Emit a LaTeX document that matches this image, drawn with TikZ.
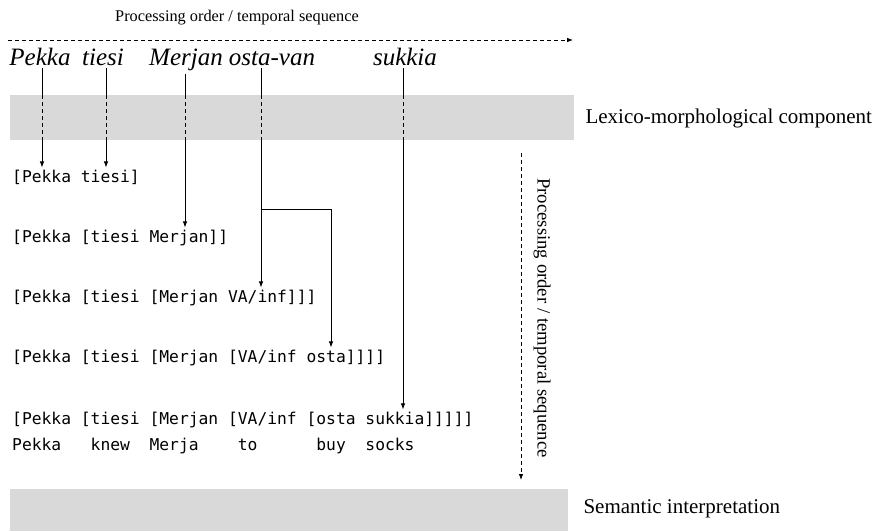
\documentclass[tikz,border=0pt]{standalone}
\usepackage{fontspec}
\setmainfont{Liberation Serif}
\setmonofont{DejaVu Sans Mono}
\usepackage{tikz}
\usetikzlibrary{arrows.meta}
\definecolor{bandgray}{HTML}{D9D9D9}
\tikzstyle{word} = [inner sep=3pt, anchor=base, font=\itshape\fontsize{25}{28}\selectfont]
\tikzstyle{struct} = [inner sep=2pt, anchor=base west, font=\ttfamily\fontsize{16.3}{19}\selectfont]
\tikzstyle{band} = [fill=bandgray, inner sep=0pt, anchor=north west]
\tikzstyle{stage} = [anchor=west, font=\fontsize{21}{24}\selectfont]
\tikzstyle{arrow} = [line width=0.8pt, -{Latex[length=6pt,width=4.5pt]}]
\tikzstyle{dasharrow} = [arrow, dash pattern=on 4pt off 3pt]

\begin{document}
\begin{tikzpicture}[x=1pt,y=-1pt]
\useasboundingbox (0,0) rectangle (876,531);

% time line on top
\node (title) at (237,18) {\fontsize{16.3}{19}\selectfont Processing order / temporal sequence};
\coordinate (timestart) at (8,40);
\coordinate (timeend) at (573,40);
\draw [dasharrow] (timestart) -- (timeend);

\node (pekka) [word] at (40,65) {Pekka};
\node (tiesi) [word] at (103,65) {tiesi};
\node (merjan) [word] at (186,65) {Merjan};
\node (ostavan) [word] at (272,65) {osta-van};
\node (sukkia) [word] at (405,65) {sukkia};

\node (lexband) [band, minimum width=564pt, minimum height=45pt] at (10,95) {};
\node (lexlabel) [stage] at (582,118) {Lexico-morphological component};

\node (rowone) [struct] at (10,182) {[Pekka tiesi]};
\node (rowtwo) [struct] at (10,242) {[Pekka [tiesi Merjan]]};
\node (rowthree) [struct] at (10,302) {[Pekka [tiesi [Merjan VA/inf]]]};
\node (rowfour) [struct] at (10,362) {[Pekka [tiesi [Merjan [VA/inf osta]]]]};
\node (rowfive) [struct] at (10,424) {[Pekka [tiesi [Merjan [VA/inf [osta sukkia]]]]]};
\node (gloss) [struct] at (10,450) {Pekka~~~knew~~Merja~~~~to~~~~~~buy~~socks};

% words pass the lexical band
\foreach \w/\s/\r in {pekka/2pt/rowone, tiesi/3pt/rowone, merjan/-1pt/rowtwo, ostavan/-11pt/rowthree, sukkia/-2pt/rowfive} {
  \draw [line width=0.8pt] ([xshift=\s]\w.south) -- ([xshift=\s]\w.south |- lexband.north);
  \draw [line width=0.8pt, dash pattern=on 4pt off 3pt] ([xshift=\s]\w.south |- lexband.north) -- ([xshift=\s]\w.south |- lexband.south);
  \draw [arrow] ([xshift=\s]\w.south |- lexband.south) -- ([xshift=\s]\w.south |- \r.north);
}
\coordinate (split) at (261,209);
\coordinate (turn) at (331,209);
\draw [arrow] (split) -- (turn) -- (turn |- rowfour.north);

% time line on the right
\coordinate (seqstart) at (521,153);
\coordinate (seqend) at (521,480);
\draw [dasharrow] (seqstart) -- (seqend);
\node (seqlabel) [rotate=-90, font=\fontsize{18.7}{21}\selectfont] at (542,318) {Processing order / temporal sequence};

\node (semband) [band, minimum width=558pt, minimum height=42pt] at (10,489) {};
\node (semlabel) [stage] at (580,509) {Semantic interpretation};

\end{tikzpicture}
\end{document}
